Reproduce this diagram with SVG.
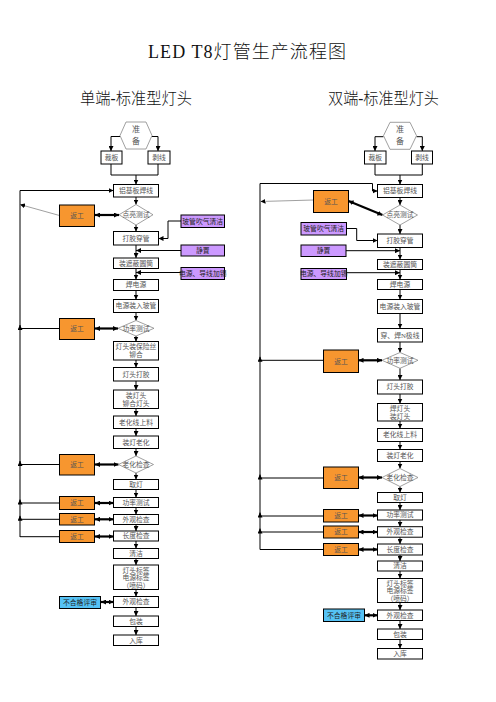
<svg xmlns="http://www.w3.org/2000/svg" width="496" height="702" viewBox="0 0 496 702">
<style>
.b{fill:#fff;stroke:#000;stroke-width:1}
.d{fill:#fff;stroke:#888;stroke-width:0.8}
.o{fill:#F7962F;stroke:#000;stroke-width:1}
.p{fill:#CC99FF;stroke:#000;stroke-width:1}
.c{fill:#55C2F5;stroke:#000;stroke-width:1}
text{font-family:"Liberation Serif","Noto Sans CJK SC",serif}
.t{font-size:6.8px;text-anchor:middle;fill:#555}
.k{font-size:6.8px;text-anchor:middle;fill:#222}
.h{font-size:16px;fill:#111;font-weight:300}
.l{fill:none;stroke:#000;stroke-width:1}
.w{fill:none;stroke:#000;stroke-width:2.2}
.g{fill:none;stroke:#888;stroke-width:0.8}
</style>
<defs>
<marker id="a" viewBox="0 0 6 6" refX="6" refY="3" markerWidth="5" markerHeight="5" markerUnits="userSpaceOnUse" orient="auto"><path d="M0,0L6,3L0,6z" fill="#000"/></marker>
<marker id="ag" viewBox="0 0 6 6" refX="6" refY="3" markerWidth="5" markerHeight="5" markerUnits="userSpaceOnUse" orient="auto"><path d="M0,0L6,3L0,6z" fill="#000"/></marker>
<marker id="aw" viewBox="0 0 6 6" refX="6" refY="3" markerWidth="5" markerHeight="5" markerUnits="userSpaceOnUse" orient="auto-start-reverse"><path d="M0,0L6,3L0,6z" fill="#000"/></marker>
</defs>
<g id="titles">
<text class="h" x="148" y="58" style="font-size:18px" textLength="198" lengthAdjust="spacing">LED T8灯管生产流程图</text>
<text class="h" x="80" y="104" textLength="112" lengthAdjust="spacingAndGlyphs">单端-标准型灯头</text>
<text class="h" x="328" y="104" textLength="111" lengthAdjust="spacingAndGlyphs">双端-标准型灯头</text>
</g>
<g id="connectors">
<path class="l" d="M120,136.5H111V151" marker-end="url(#a)"/>
<path class="l" d="M152,136.5H158V151" marker-end="url(#a)"/>
<path class="l" d="M111,164V175H158V164"/>
<path class="l" d="M136,175V184.5" marker-end="url(#a)"/>
<path class="l" d="M136,197V204.5" marker-end="url(#a)"/>
<path class="l" d="M20,537V190.5H113.5" marker-end="url(#a)"/>
<path class="g" d="M59.5,215.5L20,204.5" marker-end="url(#ag)"/>
<path class="w" d="M95,215H119" marker-start="url(#aw)" marker-end="url(#aw)"/>
<path class="l" d="M136,225V231.5" marker-end="url(#a)"/>
<path class="l" d="M181,221H168V238.5H158.5" marker-end="url(#a)"/>
<path class="l" d="M181,250.5H136" marker-end="url(#a)"/>
<path class="l" d="M136,245V258" marker-end="url(#a)"/>
<path class="l" d="M181,272.5H136" marker-end="url(#a)"/>
<path class="l" d="M136,268.5V279.5" marker-end="url(#a)"/>
<path class="l" d="M136,290.5V299.5" marker-end="url(#a)"/>
<path class="l" d="M136,312.5V320.5" marker-end="url(#a)"/>
<path class="w" d="M95,328.5H118" marker-start="url(#aw)" marker-end="url(#aw)"/>
<path class="l" d="M59.5,328.5H20V325" marker-end="url(#a)"/>
<path class="l" d="M136,336V341.5" marker-end="url(#a)"/>
<path class="l" d="M136,360V367.5" marker-end="url(#a)"/>
<path class="l" d="M136,381V390" marker-end="url(#a)"/>
<path class="l" d="M136,408.5V416" marker-end="url(#a)"/>
<path class="l" d="M136,428.5V436" marker-end="url(#a)"/>
<path class="l" d="M136,448.5V456" marker-end="url(#a)"/>
<path class="w" d="M95,464.5H118.5" marker-start="url(#aw)" marker-end="url(#aw)"/>
<path class="l" d="M59.5,464.5H20V461" marker-end="url(#a)"/>
<path class="l" d="M136,473V479.5" marker-end="url(#a)"/>
<path class="l" d="M136,489.5V497.5" marker-end="url(#a)"/>
<path class="w" d="M95,503H113.5" marker-start="url(#aw)" marker-end="url(#aw)"/>
<path class="l" d="M59.5,503H20V499.5" marker-end="url(#a)"/>
<path class="l" d="M136,507.5V514.5" marker-end="url(#a)"/>
<path class="w" d="M95,519.3H113.5" marker-start="url(#aw)" marker-end="url(#aw)"/>
<path class="l" d="M59.5,519.3H20V515.8" marker-end="url(#a)"/>
<path class="l" d="M136,524.5V531" marker-end="url(#a)"/>
<path class="w" d="M95,536.5H113.5" marker-start="url(#aw)" marker-end="url(#aw)"/>
<path class="l" d="M59.5,536.7H20"/>
<path class="l" d="M136,541V548.5" marker-end="url(#a)"/>
<path class="l" d="M136,558.5V565" marker-end="url(#a)"/>
<path class="l" d="M136,589.5V596.5" marker-end="url(#a)"/>
<path class="w" d="M101,602H113.5" marker-start="url(#aw)" marker-end="url(#aw)"/>
<path class="l" d="M136,607.5V616" marker-end="url(#a)"/>
<path class="l" d="M136,626.5V635" marker-end="url(#a)"/>
<path class="l" d="M383.5,136.7H375V151" marker-end="url(#a)"/>
<path class="l" d="M416.5,136.7H422.3V151" marker-end="url(#a)"/>
<path class="l" d="M375,164V175H422.3V164"/>
<path class="l" d="M400,175V184.5" marker-end="url(#a)"/>
<path class="l" d="M260,549.5V183.5H372.5V191H377.5" marker-end="url(#a)"/>
<path class="l" d="M400,197.5V205" marker-end="url(#a)"/>
<path class="g" d="M313.5,200L260.5,201.5" marker-end="url(#ag)"/>
<path class="w" d="M348.5,201L382.5,215" marker-start="url(#aw)" marker-end="url(#aw)"/>
<path class="l" d="M346.5,228.5H356.7V240.5H377.5" marker-end="url(#a)"/>
<path class="l" d="M400,225V234" marker-end="url(#a)"/>
<path class="l" d="M346,250.7H400" marker-end="url(#a)"/>
<path class="l" d="M400,247.5V259.5" marker-end="url(#a)"/>
<path class="l" d="M346.5,272.7H400" marker-end="url(#a)"/>
<path class="l" d="M400,269.5V279.5" marker-end="url(#a)"/>
<path class="l" d="M400,289.5V299.5" marker-end="url(#a)"/>
<path class="l" d="M400,313.5V328.5" marker-end="url(#a)"/>
<path class="l" d="M400,342V352.5" marker-end="url(#a)"/>
<path class="w" d="M358.5,360.3H382" marker-start="url(#aw)" marker-end="url(#aw)"/>
<path class="l" d="M323.5,360.3H260V356.8" marker-end="url(#a)"/>
<path class="l" d="M400,368.3V380" marker-end="url(#a)"/>
<path class="l" d="M400,394V403.5" marker-end="url(#a)"/>
<path class="l" d="M400,421V428.5" marker-end="url(#a)"/>
<path class="l" d="M400,441.5V449.5" marker-end="url(#a)"/>
<path class="l" d="M400,461.5V468.5" marker-end="url(#a)"/>
<path class="w" d="M358.5,477.5H382" marker-start="url(#aw)" marker-end="url(#aw)"/>
<path class="l" d="M323.5,478H260V474.5" marker-end="url(#a)"/>
<path class="l" d="M400,486.5V492.5" marker-end="url(#a)"/>
<path class="l" d="M400,502.5V510" marker-end="url(#a)"/>
<path class="w" d="M358.5,515.5H377.5" marker-start="url(#aw)" marker-end="url(#aw)"/>
<path class="l" d="M323.5,516H260V512.5" marker-end="url(#a)"/>
<path class="l" d="M400,520V526.7" marker-end="url(#a)"/>
<path class="w" d="M358.5,532H377.5" marker-start="url(#aw)" marker-end="url(#aw)"/>
<path class="l" d="M323.5,532H260V528.5" marker-end="url(#a)"/>
<path class="l" d="M400,537.2V544" marker-end="url(#a)"/>
<path class="w" d="M358.5,549.5H377.5" marker-start="url(#aw)" marker-end="url(#aw)"/>
<path class="l" d="M323.5,549.5H260"/>
<path class="l" d="M400,555V561" marker-end="url(#a)"/>
<path class="l" d="M400,571V578.5" marker-end="url(#a)"/>
<path class="l" d="M400,602.5V610" marker-end="url(#a)"/>
<path class="w" d="M364.5,615.3H377.5" marker-start="url(#aw)" marker-end="url(#aw)"/>
<path class="l" d="M400,620.5V629" marker-end="url(#a)"/>
<path class="l" d="M400,639.5V648.5" marker-end="url(#a)"/>
</g>
<g id="L-prep"><polygon class="d" points="120,135.5 126,122 146,122 152,135.5 146,149 126,149"/><text class="t" x="136" y="132" style="font-size:8px">准</text><text class="t" x="136" y="144" style="font-size:8px">备</text></g>
<g id="L-cut"><rect class="b" x="101" y="151" width="21" height="13"/><text class="t" x="111.5" y="160">裁板</text></g>
<g id="L-strip"><rect class="b" x="148" y="151" width="22" height="13"/><text class="t" x="159" y="160">剥线</text></g>
<g id="L-weld"><rect class="b" x="113.5" y="184.5" width="45" height="12.5"/><text class="t" x="136" y="193.2">铝基板焊线</text></g>
<g id="L-light"><polygon class="d" points="136,204.5 153,214.75 136,225 119,214.75"/><text class="t" x="136" y="217.2">点亮测试</text></g>
<g id="L-rw1"><rect class="o" x="59.5" y="205" width="35" height="21.5"/><text class="t" x="77" y="218">返工</text></g>
<g id="L-clean1"><rect class="p" x="181" y="215" width="43.5" height="12.5"/><text class="k" x="202.7" y="223.7">玻管吹气清洁</text></g>
<g id="L-glue"><rect class="b" x="113.5" y="231.5" width="45" height="13.5"/><text class="t" x="136" y="240.7">打胶穿管</text></g>
<g id="L-rest"><rect class="p" x="181" y="245" width="43.5" height="11"/><text class="k" x="202.7" y="252.9">静置</text></g>
<g id="L-shield"><rect class="b" x="113.5" y="258" width="45" height="10.5"/><text class="t" x="136" y="265.7">装遮蔽圆筒</text></g>
<g id="L-tin"><rect class="p" x="181" y="267.5" width="43.5" height="12"/><text class="k" x="202.7" y="275.9">电源、导线加锡</text></g>
<g id="L-solder"><rect class="b" x="113.5" y="279.5" width="45" height="11"/><text class="t" x="136" y="287.4">焊电源</text></g>
<g id="L-insert"><rect class="b" x="113.5" y="299.5" width="45" height="13"/><text class="t" x="136" y="308.4">电源装入玻管</text></g>
<g id="L-power"><polygon class="d" points="136,320.5 154,328.3 136,336 118,328.3"/><text class="t" x="136" y="330.7">功率测试</text></g>
<g id="L-rw2"><rect class="o" x="59.5" y="318.5" width="35" height="21"/><text class="t" x="77" y="331.3">返工</text></g>
<g id="L-fuse"><rect class="b" x="113.5" y="341.5" width="45" height="18.5"/><text class="t" x="136" y="349">灯头装保险丝</text><text class="t" x="136" y="357">铆合</text></g>
<g id="L-capglue"><rect class="b" x="113.5" y="367.5" width="45" height="13.5"/><text class="t" x="136" y="376.7">灯头打胶</text></g>
<g id="L-cap"><rect class="b" x="113.5" y="390" width="45" height="18.5"/><text class="t" x="136" y="397.5">装灯头</text><text class="t" x="136" y="405.5">铆合灯头</text></g>
<g id="L-load"><rect class="b" x="113.5" y="416" width="45" height="12.5"/><text class="t" x="136" y="424.7">老化线上料</text></g>
<g id="L-age"><rect class="b" x="113.5" y="436" width="45" height="12.5"/><text class="t" x="136" y="444.7">装灯老化</text></g>
<g id="L-agecheck"><polygon class="d" points="136,456 153.5,464.5 136,473 118.5,464.5"/><text class="t" x="136" y="467">老化检查</text></g>
<g id="L-rw3"><rect class="o" x="59.5" y="454.5" width="35" height="20.5"/><text class="t" x="77" y="467.2">返工</text></g>
<g id="L-take"><rect class="b" x="113.5" y="479.5" width="45" height="10"/><text class="t" x="136" y="486.9">取灯</text></g>
<g id="L-ptest"><rect class="b" x="113.5" y="497.5" width="45" height="10"/><text class="t" x="136" y="504.9">功率测试</text></g>
<g id="L-rw4"><rect class="o" x="59.5" y="496.5" width="35" height="13"/><text class="t" x="77" y="505.4">返工</text></g>
<g id="L-look"><rect class="b" x="113.5" y="514.5" width="45" height="10"/><text class="t" x="136" y="521.9">外观检查</text></g>
<g id="L-rw5"><rect class="o" x="59.5" y="513.5" width="35" height="11.5"/><text class="t" x="77" y="521.7">返工</text></g>
<g id="L-len"><rect class="b" x="113.5" y="531" width="45" height="10"/><text class="t" x="136" y="538.4">长度检查</text></g>
<g id="L-rw6"><rect class="o" x="59.5" y="530.5" width="35" height="12"/><text class="t" x="77" y="538.9">返工</text></g>
<g id="L-clean"><rect class="b" x="113.5" y="548.5" width="45" height="10"/><text class="t" x="136" y="555.9">清洁</text></g>
<g id="L-label"><rect class="b" x="113.5" y="565" width="45" height="24.5"/><text class="t" x="136" y="572.5">灯头标签</text><text class="t" x="136" y="580">电源标签</text><text class="t" x="136" y="587.5">（喷码）</text></g>
<g id="L-look2"><rect class="b" x="113.5" y="596.5" width="45" height="11"/><text class="t" x="136" y="604.4">外观检查</text></g>
<g id="L-ng"><rect class="c" x="59.5" y="596.5" width="41" height="12"/><text class="k" x="80" y="604.9">不合格评审</text></g>
<g id="L-pack"><rect class="b" x="113.5" y="616" width="45" height="10.5"/><text class="t" x="136" y="623.6">包装</text></g>
<g id="L-store"><rect class="b" x="113.5" y="635" width="45" height="10.5"/><text class="t" x="136" y="642.6">入库</text></g>
<g id="R-prep"><polygon class="d" points="383.5,135.7 390,122.3 410,122.3 416.5,135.7 410,149.3 390,149.3"/><text class="t" x="400" y="132" style="font-size:8px">准</text><text class="t" x="400" y="144" style="font-size:8px">备</text></g>
<g id="R-cut"><rect class="b" x="364.5" y="151" width="21.5" height="13"/><text class="t" x="375.2" y="160">裁板</text></g>
<g id="R-strip"><rect class="b" x="411.5" y="151" width="21" height="13"/><text class="t" x="422" y="160">剥线</text></g>
<g id="R-weld"><rect class="b" x="377.5" y="184.5" width="45" height="13"/><text class="t" x="400" y="193.4">铝基板焊线</text></g>
<g id="R-light"><polygon class="d" points="400,205 417.5,215 400,225 382.5,215"/><text class="t" x="400" y="217.4">点亮测试</text></g>
<g id="R-rw1"><rect class="o" x="313.5" y="190.5" width="35" height="22"/><text class="t" x="331" y="203.9">返工</text></g>
<g id="R-clean1"><rect class="p" x="301" y="222.5" width="45.5" height="12.5"/><text class="k" x="323.7" y="231.2">玻管吹气清洁</text></g>
<g id="R-glue"><rect class="b" x="377.5" y="234" width="45" height="13.5"/><text class="t" x="400" y="243.2">打胶穿管</text></g>
<g id="R-rest"><rect class="p" x="301" y="245" width="45" height="11.5"/><text class="k" x="323.5" y="253.2">静置</text></g>
<g id="R-shield"><rect class="b" x="377.5" y="259.5" width="45" height="10"/><text class="t" x="400" y="266.9">装遮蔽圆筒</text></g>
<g id="R-tin"><rect class="p" x="301" y="268.5" width="45.5" height="11"/><text class="k" x="323.7" y="276.4">电源、导线加锡</text></g>
<g id="R-solder"><rect class="b" x="377.5" y="279.5" width="45" height="10"/><text class="t" x="400" y="286.9">焊电源</text></g>
<g id="R-insert"><rect class="b" x="377.5" y="299.5" width="45" height="14"/><text class="t" x="400" y="308.9">电源装入玻管</text></g>
<g id="R-nwire"><rect class="b" x="377.5" y="328.5" width="45" height="13.5"/><text class="t" x="400" y="337.7">穿、焊N极线</text></g>
<g id="R-power"><polygon class="d" points="400,352.5 418,360.3 400,368.3 382,360.3"/><text class="t" x="400" y="362.7">功率测试</text></g>
<g id="R-rw2"><rect class="o" x="323.5" y="350" width="35" height="22.5"/><text class="t" x="341" y="363.6">返工</text></g>
<g id="R-capglue"><rect class="b" x="377.5" y="380" width="45" height="14"/><text class="t" x="400" y="389.4">灯头打胶</text></g>
<g id="R-cap"><rect class="b" x="377.5" y="403.5" width="45" height="17.5"/><text class="t" x="400" y="410.8">焊灯头</text><text class="t" x="400" y="418.5">装灯头</text></g>
<g id="R-load"><rect class="b" x="377.5" y="428.5" width="45" height="13"/><text class="t" x="400" y="437.4">老化线上料</text></g>
<g id="R-age"><rect class="b" x="377.5" y="449.5" width="45" height="12"/><text class="t" x="400" y="457.9">装灯老化</text></g>
<g id="R-agecheck"><polygon class="d" points="400,468.5 418,477.5 400,486.5 382,477.5"/><text class="t" x="400" y="479.9">老化检查</text></g>
<g id="R-rw3"><rect class="o" x="323.5" y="467" width="35" height="21.5"/><text class="t" x="341" y="480.2">返工</text></g>
<g id="R-take"><rect class="b" x="377.5" y="492.5" width="45" height="10"/><text class="t" x="400" y="499.9">取灯</text></g>
<g id="R-ptest"><rect class="b" x="377.5" y="510" width="45" height="10"/><text class="t" x="400" y="517.4">功率测试</text></g>
<g id="R-rw4"><rect class="o" x="323.5" y="509.5" width="35" height="12.5"/><text class="t" x="341" y="518.2">返工</text></g>
<g id="R-look"><rect class="b" x="377.5" y="526.7" width="45" height="10.5"/><text class="t" x="400" y="534.3">外观检查</text></g>
<g id="R-rw5"><rect class="o" x="323.5" y="526" width="35" height="12"/><text class="t" x="341" y="534.4">返工</text></g>
<g id="R-len"><rect class="b" x="377.5" y="544" width="45" height="11"/><text class="t" x="400" y="551.9">长度检查</text></g>
<g id="R-rw6"><rect class="o" x="323.5" y="543.5" width="35" height="12"/><text class="t" x="341" y="551.9">返工</text></g>
<g id="R-clean"><rect class="b" x="377.5" y="561" width="45" height="10"/><text class="t" x="400" y="568.4">清洁</text></g>
<g id="R-label"><rect class="b" x="377.5" y="578.5" width="45" height="24"/><text class="t" x="400" y="585.8">灯头标签</text><text class="t" x="400" y="593.3">电源标签</text><text class="t" x="400" y="600.8">（喷码）</text></g>
<g id="R-look2"><rect class="b" x="377.5" y="610" width="45" height="10.5"/><text class="t" x="400" y="617.7">外观检查</text></g>
<g id="R-ng"><rect class="c" x="323.5" y="609" width="41" height="12.5"/><text class="k" x="344" y="617.7">不合格评审</text></g>
<g id="R-pack"><rect class="b" x="377.5" y="629" width="45" height="10.5"/><text class="t" x="400" y="636.6">包装</text></g>
<g id="R-store"><rect class="b" x="377.5" y="648.5" width="45" height="10.5"/><text class="t" x="400" y="656.1">入库</text></g>
</svg>
